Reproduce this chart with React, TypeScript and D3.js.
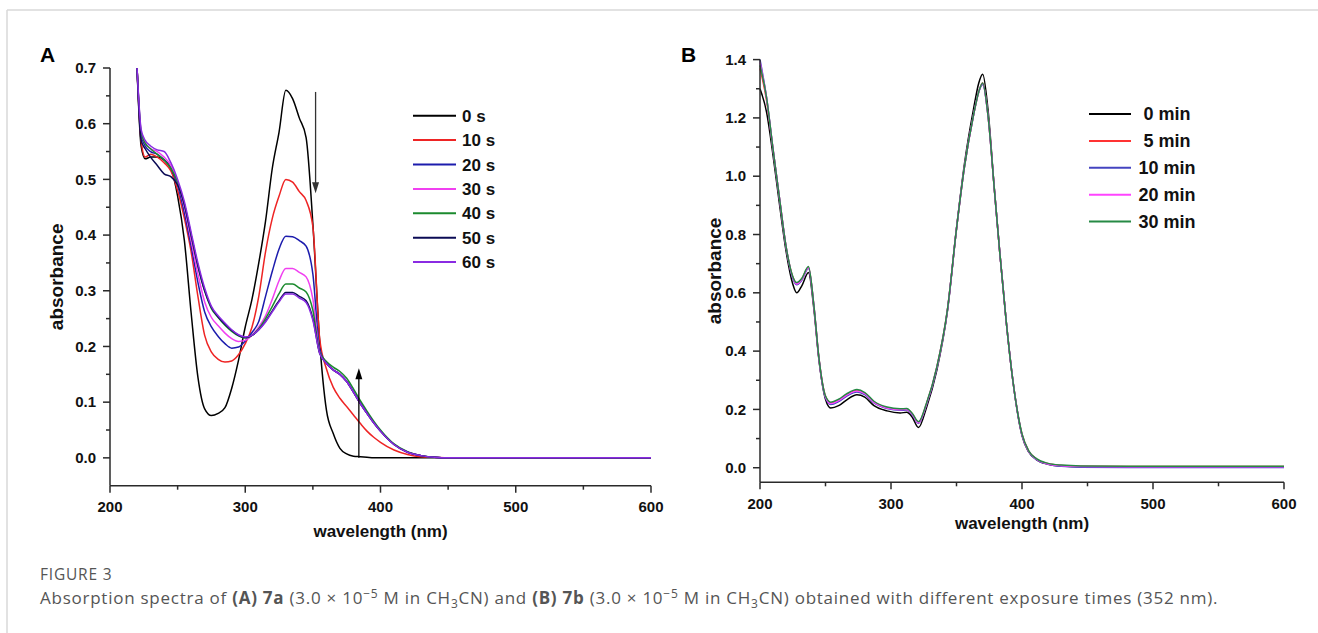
import React from "react";
import * as d3 from "d3";

// ---- panel A: 7a, exposure time in seconds ----
const wlA = [220, 223, 226, 230, 235, 240, 245, 250, 255, 260, 265, 270, 275, 280, 285, 290, 295, 300, 305, 310, 315, 320, 325, 330, 335, 340, 345, 350, 355, 360, 365, 370, 375, 380, 385, 390, 395, 400, 410, 420, 430, 440, 450, 500, 550, 600];
const a0s = [0.70, 0.56, 0.537, 0.54, 0.54, 0.535, 0.52, 0.47, 0.39, 0.26, 0.145, 0.088, 0.076, 0.08, 0.09, 0.125, 0.175, 0.235, 0.285, 0.35, 0.425, 0.52, 0.585, 0.66, 0.645, 0.61, 0.575, 0.42, 0.21, 0.086, 0.044, 0.017, 0.007, 0.003, 0.002, 0.001, 0, 0, 0, 0, 0, 0, 0, 0, 0, 0];
const a10s = [0.70, 0.57, 0.54, 0.545, 0.54, 0.53, 0.515, 0.48, 0.43, 0.37, 0.29, 0.22, 0.19, 0.177, 0.172, 0.174, 0.185, 0.205, 0.235, 0.29, 0.37, 0.43, 0.47, 0.50, 0.495, 0.478, 0.462, 0.415, 0.215, 0.16, 0.127, 0.107, 0.092, 0.077, 0.062, 0.048, 0.037, 0.028, 0.014, 0.006, 0.002, 0.001, 0, 0, 0, 0];
const a20s = [0.70, 0.58, 0.56, 0.55, 0.545, 0.535, 0.52, 0.49, 0.44, 0.38, 0.315, 0.262, 0.235, 0.218, 0.205, 0.197, 0.199, 0.21, 0.225, 0.245, 0.29, 0.335, 0.375, 0.398, 0.397, 0.39, 0.38, 0.33, 0.195, 0.17, 0.158, 0.15, 0.137, 0.118, 0.098, 0.08, 0.063, 0.048, 0.024, 0.01, 0.004, 0.001, 0, 0, 0, 0];
const a30s = [0.70, 0.585, 0.565, 0.555, 0.55, 0.54, 0.525, 0.495, 0.45, 0.39, 0.33, 0.28, 0.252, 0.237, 0.224, 0.214, 0.209, 0.211, 0.22, 0.235, 0.255, 0.285, 0.318, 0.34, 0.34, 0.333, 0.325, 0.285, 0.19, 0.17, 0.158, 0.15, 0.137, 0.118, 0.098, 0.08, 0.063, 0.048, 0.024, 0.01, 0.004, 0.001, 0, 0, 0, 0];
const a40s = [0.70, 0.585, 0.565, 0.555, 0.545, 0.535, 0.52, 0.495, 0.455, 0.40, 0.345, 0.30, 0.268, 0.252, 0.238, 0.227, 0.219, 0.215, 0.22, 0.232, 0.25, 0.272, 0.295, 0.312, 0.312, 0.305, 0.298, 0.265, 0.19, 0.173, 0.163, 0.155, 0.143, 0.124, 0.103, 0.084, 0.066, 0.05, 0.025, 0.011, 0.004, 0.001, 0, 0, 0, 0];
const a50s = [0.70, 0.57, 0.555, 0.54, 0.525, 0.51, 0.505, 0.49, 0.455, 0.40, 0.345, 0.30, 0.27, 0.253, 0.24, 0.229, 0.22, 0.216, 0.22, 0.23, 0.245, 0.264, 0.282, 0.297, 0.297, 0.29, 0.282, 0.25, 0.188, 0.17, 0.158, 0.15, 0.137, 0.118, 0.098, 0.08, 0.063, 0.048, 0.024, 0.01, 0.004, 0.001, 0, 0, 0, 0];
const a60s = [0.70, 0.59, 0.57, 0.56, 0.553, 0.55, 0.53, 0.50, 0.46, 0.405, 0.35, 0.305, 0.272, 0.255, 0.242, 0.23, 0.221, 0.217, 0.22, 0.23, 0.244, 0.262, 0.28, 0.294, 0.294, 0.287, 0.279, 0.247, 0.188, 0.17, 0.158, 0.15, 0.137, 0.118, 0.098, 0.08, 0.063, 0.048, 0.024, 0.01, 0.004, 0.001, 0, 0, 0, 0];
const labelsA = ["0 s", "10 s", "20 s", "30 s", "40 s", "50 s", "60 s"];
const colorsA = ["#000000", "#ee2424", "#1c1cad", "#f040f0", "#1b8a2e", "#0b0b55", "#8a2be2"];

// arrows (nm, from, to)
const arrowDown = [352, 0.657, 0.475];
const arrowUp = [384, 0.0, 0.161];

// ---- panel B: 7b, exposure time in minutes ----
const wlB = [200, 205, 210, 215, 220, 225, 228, 232, 237, 241, 245, 250, 254, 260, 266, 274, 280, 287, 297, 307, 312, 316, 321, 327, 335, 343, 350, 356, 363, 367, 370, 374, 379, 383, 388, 393, 400, 405, 411, 420, 430, 445, 500, 550, 600];
const b0min = [1.30, 1.22, 1.07, 0.90, 0.74, 0.63, 0.60, 0.625, 0.67, 0.55, 0.37, 0.235, 0.205, 0.213, 0.232, 0.25, 0.242, 0.213, 0.195, 0.188, 0.19, 0.175, 0.138, 0.205, 0.335, 0.535, 0.82, 1.04, 1.23, 1.32, 1.35, 1.23, 0.95, 0.74, 0.50, 0.30, 0.11, 0.055, 0.028, 0.012, 0.006, 0.003, 0.002, 0.002, 0.002];
const b5min = [1.37, 1.26, 1.09, 0.92, 0.755, 0.655, 0.632, 0.648, 0.688, 0.56, 0.375, 0.245, 0.222, 0.232, 0.25, 0.265, 0.256, 0.226, 0.206, 0.20, 0.201, 0.186, 0.155, 0.218, 0.345, 0.54, 0.82, 1.03, 1.21, 1.29, 1.32, 1.21, 0.95, 0.74, 0.50, 0.30, 0.115, 0.058, 0.03, 0.014, 0.008, 0.005, 0.004, 0.004, 0.004];
const b10min = [1.40, 1.27, 1.09, 0.92, 0.755, 0.65, 0.628, 0.644, 0.684, 0.56, 0.373, 0.24, 0.217, 0.227, 0.245, 0.26, 0.251, 0.222, 0.203, 0.197, 0.198, 0.183, 0.152, 0.215, 0.342, 0.537, 0.82, 1.03, 1.21, 1.29, 1.315, 1.21, 0.95, 0.74, 0.50, 0.30, 0.112, 0.056, 0.028, 0.012, 0.005, 0.002, 0.001, 0.001, 0.001];
const b20min = [1.39, 1.27, 1.09, 0.92, 0.755, 0.653, 0.63, 0.646, 0.686, 0.56, 0.374, 0.243, 0.22, 0.23, 0.248, 0.263, 0.254, 0.224, 0.205, 0.199, 0.2, 0.185, 0.154, 0.217, 0.344, 0.538, 0.82, 1.03, 1.21, 1.29, 1.318, 1.21, 0.95, 0.74, 0.50, 0.30, 0.114, 0.057, 0.029, 0.013, 0.007, 0.004, 0.003, 0.003, 0.003];
const b30min = [1.38, 1.27, 1.09, 0.92, 0.756, 0.656, 0.635, 0.65, 0.69, 0.562, 0.376, 0.246, 0.225, 0.235, 0.253, 0.268, 0.258, 0.228, 0.208, 0.202, 0.203, 0.188, 0.158, 0.22, 0.346, 0.54, 0.82, 1.03, 1.21, 1.29, 1.32, 1.21, 0.95, 0.74, 0.50, 0.30, 0.116, 0.059, 0.031, 0.015, 0.009, 0.006, 0.005, 0.005, 0.005];
const labelsB = ["0 min", "5 min", "10 min", "20 min", "30 min"];
const colorsB = ["#000000", "#ff3333", "#4444c0", "#ff44ff", "#268a45"];

const xMajor = [200, 300, 400, 500, 600];
const xMinor = [250, 350, 450, 550];
const yMajorA = [0, 0.1, 0.2, 0.3, 0.4, 0.5, 0.6, 0.7];
const yMinorA = [0.05, 0.15, 0.25, 0.35, 0.45, 0.55, 0.65];
const yMajorB = [0, 0.2, 0.4, 0.6, 0.8, 1.0, 1.2, 1.4];
const yMinorB = [0.1, 0.3, 0.5, 0.7, 0.9, 1.1, 1.3];

const FONT = "'Liberation Sans', Arial, Helvetica, sans-serif";
const CAPFONT = "'Open Sans', 'Noto Sans', sans-serif";
const AXIS = "#2a2a2a";

function Panel(props) {
  const { wl, series, labels, colors, x, y, yMajor, yMinor, fmt, letter, letterX, xLabelY, xTitleY, yTitleX, legend } = props;
  const [x0, x1] = x.range();
  const [yb, yt] = y.range();
  const line = d3.line().x((d) => x(d[0])).y((d) => y(d[1])).curve(d3.curveMonotoneX);
  return (
    <g>
      <text x={letterX} y={62} fontFamily={FONT} fontWeight="bold" fontSize={21} fill="#000">{letter}</text>
      {series.map((s, i) => (
        <path key={i} d={line(wl.map((w, j) => [w, s[j]]))} fill="none" stroke={colors[i]} strokeWidth={1.5} strokeLinejoin="round" />
      ))}
      {/* axes */}
      <line x1={x0} x2={x1} y1={yb} y2={yb} stroke={AXIS} strokeWidth={1.5} />
      <line x1={x0} x2={x0} y1={yb} y2={yt} stroke={AXIS} strokeWidth={1.5} />
      {xMajor.map((t) => (
        <g key={"xm" + t}>
          <line x1={x(t)} x2={x(t)} y1={yb} y2={yb + 7} stroke={AXIS} strokeWidth={1.5} />
          <text x={x(t)} y={xLabelY} textAnchor="middle" fontFamily={FONT} fontWeight="bold" fontSize={15} fill="#111">{t}</text>
        </g>
      ))}
      {xMinor.map((t) => (
        <line key={"xn" + t} x1={x(t)} x2={x(t)} y1={yb} y2={yb + 4} stroke={AXIS} strokeWidth={1.5} />
      ))}
      {yMajor.map((t) => (
        <g key={"ym" + t}>
          <line x1={x0 - 7} x2={x0} y1={y(t)} y2={y(t)} stroke={AXIS} strokeWidth={1.5} />
          <text x={x0 - 14} y={y(t)} dy="0.35em" textAnchor="end" fontFamily={FONT} fontWeight="bold" fontSize={15} fill="#111">{fmt(t)}</text>
        </g>
      ))}
      {yMinor.map((t) => (
        <line key={"yn" + t} x1={x0 - 4} x2={x0} y1={y(t)} y2={y(t)} stroke={AXIS} strokeWidth={1.5} />
      ))}
      <text x={(x0 + x1) / 2} y={xTitleY} textAnchor="middle" fontFamily={FONT} fontWeight="bold" fontSize={17} fill="#111">wavelength (nm)</text>
      <text transform={`translate(${yTitleX},${(yb + yt) / 2}) rotate(-90)`} textAnchor="middle" fontFamily={FONT} fontWeight="bold" fontSize={19} fill="#111">absorbance</text>
      {/* legend */}
      {labels.map((lab, i) => (
        <g key={"lg" + i}>
          <line x1={legend.x1} x2={legend.x2} y1={legend.y0 + i * legend.dy} y2={legend.y0 + i * legend.dy} stroke={colors[i]} strokeWidth={2} />
          <text x={legend.tx} y={legend.y0 + i * legend.dy} dy="0.36em" textAnchor={legend.anchor} fontFamily={FONT} fontWeight="bold" fontSize={legend.fs} fill="#111">{lab}</text>
        </g>
      ))}
    </g>
  );
}

function Arrow({ x, y, at, from, to, color }) {
  const px = x(at);
  const ya = y(from);
  const yb = y(to);
  const dir = yb > ya ? 1 : -1;
  const head = `M${px},${yb} L${px - 3.5},${yb - dir * 11} L${px + 3.5},${yb - dir * 11} Z`;
  return (
    <g>
      <line x1={px} x2={px} y1={ya} y2={yb - dir * 8} stroke={color} strokeWidth={1.3} />
      <path d={head} fill={color} />
    </g>
  );
}

export default function App() {
  const xA = d3.scaleLinear().domain([200, 600]).range([110, 651]);
  const yA = d3.scaleLinear().domain([-0.05, 0.7]).range([485.7, 68]);
  const xB = d3.scaleLinear().domain([200, 600]).range([760, 1284]);
  const yB = d3.scaleLinear().domain([-0.05, 1.4]).range([482.3, 59.6]);
  const f1 = d3.format(".1f");

  const seriesA = [a0s, a10s, a20s, a30s, a40s, a50s, a60s];
  const seriesB = [b0min, b5min, b10min, b20min, b30min];

  const small = 12;
  return (
    <svg width={1318} height={633} style={{ position: "absolute", left: 0, top: 0, background: "#fff" }}>
      <line x1={7} x2={1318} y1={10} y2={10} stroke="#d8d8d8" strokeWidth={1.5} />
      <line x1={7} x2={7} y1={10} y2={633} stroke="#d8d8d8" strokeWidth={1.5} />

      <Panel wl={wlA} series={seriesA} labels={labelsA} colors={colorsA} x={xA} y={yA}
        yMajor={yMajorA} yMinor={yMinorA} fmt={f1} letter="A" letterX={40}
        xLabelY={512} xTitleY={537} yTitleX={63}
        legend={{ x1: 413, x2: 456, tx: 462, anchor: "start", y0: 115.7, dy: 24.4, fs: 17 }} />
      <Arrow x={xA} y={yA} at={arrowDown[0]} from={arrowDown[1]} to={arrowDown[2]} color="#333" />
      <Arrow x={xA} y={yA} at={arrowUp[0]} from={arrowUp[1]} to={arrowUp[2]} color="#000" />

      <Panel wl={wlB} series={seriesB} labels={labelsB} colors={colorsB} x={xB} y={yB}
        yMajor={yMajorB} yMinor={yMinorB} fmt={f1} letter="B" letterX={681}
        xLabelY={509} xTitleY={529} yTitleX={721}
        legend={{ x1: 1089, x2: 1131, tx: 1167, anchor: "middle", y0: 114, dy: 26.9, fs: 18 }} />

      <text x={40} y={580} fontFamily={CAPFONT} fontSize={15.5} fill="#555" letterSpacing={0.8}>FIGURE 3</text>
      <text x={40} y={604} fontFamily={CAPFONT} fontSize={17} fill="#555" letterSpacing={0.75}>
        {"Absorption spectra of "}
        <tspan fontWeight="bold">(A) 7a</tspan>
        {" (3.0 × 10"}
        <tspan dy={-6} fontSize={small}>−5</tspan>
        <tspan dy={6}>{" M in CH"}</tspan>
        <tspan dy={4} fontSize={small}>3</tspan>
        <tspan dy={-4}>{"CN) and "}</tspan>
        <tspan fontWeight="bold">(B) 7b</tspan>
        {" (3.0 × 10"}
        <tspan dy={-6} fontSize={small}>−5</tspan>
        <tspan dy={6}>{" M in CH"}</tspan>
        <tspan dy={4} fontSize={small}>3</tspan>
        <tspan dy={-4}>{"CN) obtained with different exposure times (352 nm)."}</tspan>
      </text>
    </svg>
  );
}
